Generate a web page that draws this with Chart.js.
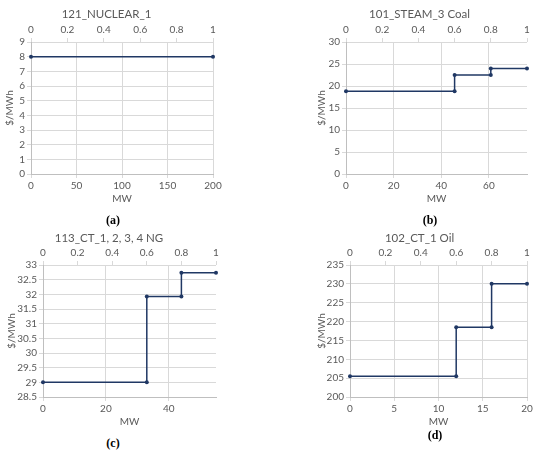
<!DOCTYPE html>
<html>
<head>
<meta charset="utf-8">
<script src="https://cdn.jsdelivr.net/npm/chart.js@4.4.1/dist/chart.umd.min.js"></script>
<style>
    html, body { margin: 0; padding: 0; background: #ffffff; }
    #wrap { position: relative; width: 550px; height: 455px; overflow: hidden; }
    .panel { position: absolute; }
    .caption {
        position: absolute;
        font-family: "Liberation Serif", "DejaVu Serif", serif;
        font-weight: bold;
        font-size: 12px;
        color: #000;
        transform: translate(-50%, -50%);
    }
</style>
</head>
<body>
<div id="wrap">
    <div class="panel" id="pa"><canvas id="chartA"></canvas></div>
    <div class="panel" id="pb"><canvas id="chartB"></canvas></div>
    <div class="panel" id="pc"><canvas id="chartC"></canvas></div>
    <div class="panel" id="pd"><canvas id="chartD"></canvas></div>
    <div class="caption" style="left:113px; top:220px;">(a)</div>
    <div class="caption" style="left:430px; top:220px;">(b)</div>
    <div class="caption" style="left:113px; top:443px;">(c)</div>
    <div class="caption" style="left:435px; top:435px;">(d)</div>
</div>
<script>
// 데이터
const titles = ['121_NUCLEAR_1', '101_STEAM_3 Coal', '113_CT_1, 2, 3, 4 NG', '102_CT_1 Oil'];

const nuclearMW = [0, 200];
const nuclearCost = [8, 8];

const coalMW = [0, 45.6, 45.6, 60.8, 60.8, 76];
const coalCost = [18.8, 18.8, 22.5, 22.5, 24, 24];

const ngMW = [0, 33, 33, 44, 44, 55];
const ngCost = [29, 29, 31.93, 31.93, 32.74, 32.74];

const oilMW = [0, 12, 12, 16, 16, 20];
const oilCost = [205.5, 205.5, 218.5, 218.5, 230, 230];

// 축 눈금
const fracTicks = [0, 0.2, 0.4, 0.6, 0.8, 1];
const nuclearXTicks = [0, 50, 100, 150, 200];
const coalXTicks = [0, 20, 40, 60];
const ngXTicks = [0, 20, 40];
const oilXTicks = [0, 5, 10, 15, 20];
const nuclearYTicks = [0, 1, 2, 3, 4, 5, 6, 7, 8, 9];
const coalYTicks = [0, 5, 10, 15, 20, 25, 30];
const ngYTicks = [28.5, 29, 29.5, 30, 30.5, 31, 31.5, 32, 32.5, 33];
const oilYTicks = [200, 205, 210, 215, 220, 225, 230, 235];

// 색상
const lineColor = '#203864';
const gridColor = '#d9d9d9';
const axisColor = '#bfbfbf';
const textColor = '#595959';
const fontFamily = 'Lato, "Open Sans", sans-serif';

// 패널 배치 (캔버스 위치와 축 크기)
const panels = [
    { box: 'pa', id: 'chartA', left: 0,   top: 0,   w: 226, h: 205, yW: 31, topH: 21.2, botH: 31, padR: 13 },
    { box: 'pb', id: 'chartB', left: 312, top: 0,   w: 222, h: 205, yW: 34, topH: 21.2, botH: 31, padR: 7 },
    { box: 'pc', id: 'chartC', left: 2,   top: 224, w: 222, h: 204, yW: 41, topH: 20.2, botH: 31, padR: 8 },
    { box: 'pd', id: 'chartD', left: 312, top: 224, w: 224, h: 204, yW: 38, topH: 20.2, botH: 31, padR: 9 }
];

function toPoints(xs, ys) {
    return xs.map((x, i) => ({ x: x, y: ys[i] }));
}

function fixTicks(values) {
    return function(scale) {
        scale.ticks = values.map(v => ({ value: v }));
    };
}

// 엑셀처럼 "1.0" 대신 "1"
function plainLabel(value) {
    return String(Math.round(value * 100) / 100);
}

function createChart(p, title, xs, ys, xMax, xTicks, yMin, yMax, yTicks) {
    const box = document.getElementById(p.box);
    box.style.left = p.left + 'px';
    box.style.top = p.top + 'px';
    box.style.width = p.w + 'px';
    box.style.height = p.h + 'px';

    const tickFont = { family: fontFamily, size: 10 };
    const ctx = document.getElementById(p.id).getContext('2d');
    return new Chart(ctx, {
        type: 'scatter',
        data: {
            datasets: [{
                data: toPoints(xs, ys),
                showLine: true,
                borderColor: lineColor,
                backgroundColor: lineColor,
                borderWidth: 1.5,
                pointRadius: 2,
                pointBorderWidth: 0,
                clip: false,
                xAxisID: 'x',
                yAxisID: 'y'
            }]
        },
        options: {
            animation: false,
            responsive: true,
            maintainAspectRatio: false,
            layout: { padding: { left: 0, top: 0, right: p.padR, bottom: 0 } },
            plugins: {
                legend: { display: false },
                tooltip: { enabled: false },
                title: {
                    display: true,
                    text: title,
                    color: textColor,
                    font: { family: fontFamily, size: 11.5, weight: 'normal' },
                    padding: { top: 7, bottom: 0 }
                }
            },
            scales: {
                x: {
                    type: 'linear',
                    position: 'bottom',
                    min: 0,
                    max: xMax,
                    afterBuildTicks: fixTicks(xTicks),
                    afterFit: (s) => { s.height = p.botH; },
                    grid: { color: gridColor, tickLength: 4, drawTicks: true },
                    border: { color: axisColor },
                    ticks: { color: textColor, padding: 2, maxRotation: 0, autoSkip: false, callback: plainLabel, font: tickFont },
                    title: { display: true, text: 'MW', color: textColor, padding: 0, font: tickFont }
                },
                x2: {
                    type: 'linear',
                    position: 'top',
                    min: 0,
                    max: 1,
                    afterBuildTicks: fixTicks(fracTicks),
                    afterFit: (s) => { s.height = p.topH; },
                    grid: { drawOnChartArea: false, color: gridColor, tickLength: 4 },
                    border: { display: false },
                    ticks: { color: textColor, padding: 2, maxRotation: 0, autoSkip: false, callback: plainLabel, font: tickFont }
                },
                y: {
                    type: 'linear',
                    position: 'left',
                    min: yMin,
                    max: yMax,
                    afterBuildTicks: fixTicks(yTicks),
                    afterFit: (s) => { s.width = p.yW; },
                    grid: { color: gridColor, tickLength: 4 },
                    border: { color: axisColor },
                    ticks: { color: textColor, padding: 2, autoSkip: false, callback: plainLabel, font: tickFont },
                    title: { display: true, text: '$/MWh', color: textColor, padding: { top: 4, bottom: 0 }, font: tickFont }
                }
            }
        }
    });
}

let nuclearChart, coalChart, ngChart, oilChart;

document.addEventListener('DOMContentLoaded', () => {
    nuclearChart = createChart(panels[0], titles[0], nuclearMW, nuclearCost, 200, nuclearXTicks, 0, 9, nuclearYTicks);
    coalChart = createChart(panels[1], titles[1], coalMW, coalCost, 76, coalXTicks, 0, 30, coalYTicks);
    ngChart = createChart(panels[2], titles[2], ngMW, ngCost, 55, ngXTicks, 28.5, 33, ngYTicks);
    oilChart = createChart(panels[3], titles[3], oilMW, oilCost, 20, oilXTicks, 200, 235, oilYTicks);
});
</script>
</body>
</html>
